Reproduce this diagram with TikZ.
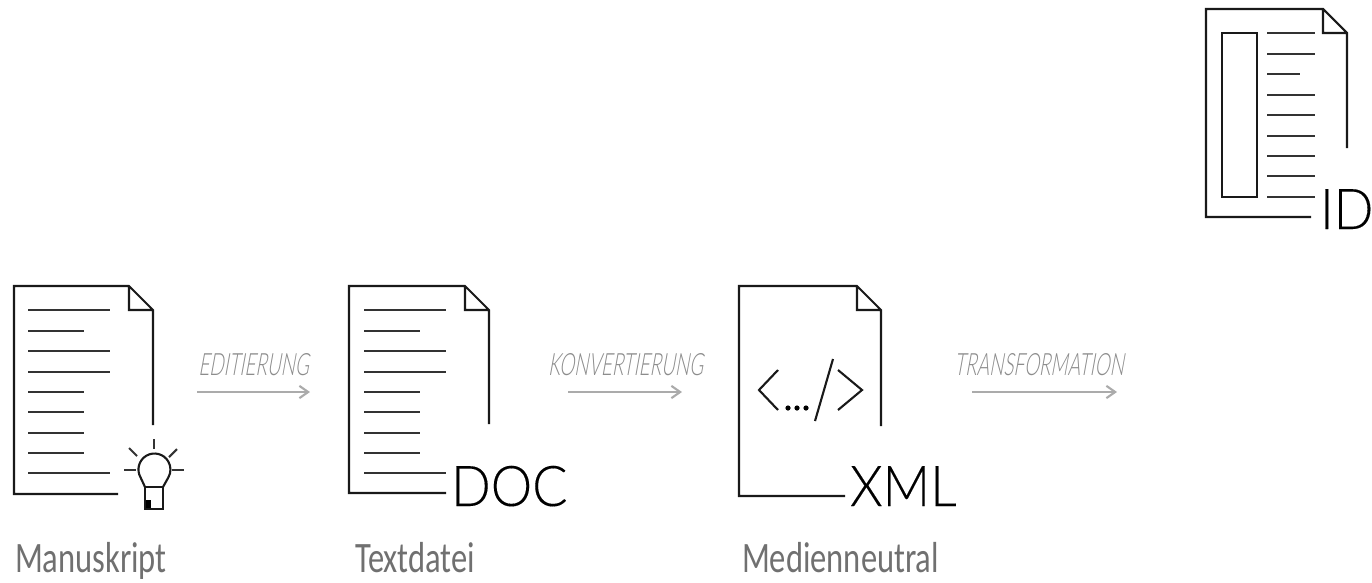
\documentclass[tikz,border=0pt]{standalone}
\usepackage{fontspec}
\usetikzlibrary{arrows.meta}
\setmainfont{Carlito}
\newfontfamily\stepfont[FakeStretch=0.75]{Carlito}
\newfontfamily\flowfont[FakeStretch=0.615,FakeSlant=0.18]{Lato Light}
\newfontfamily\typefont[FakeStretch=0.93,FakeBold=0.2]{Lato Light}
\definecolor{stepgray}{HTML}{707070}
\definecolor{flowgray}{HTML}{8C8C8C}
\definecolor{arrowgray}{HTML}{ABABAB}

\begin{document}
\begin{tikzpicture}[x=0.02cm,y=-0.02cm,line width=1.2pt]
    \tikzstyle{page}=[draw=black!90,line join=miter]
    \tikzstyle{row}=[draw=black!80]
    \tikzstyle{flow}=[draw=arrowgray,line width=1.2pt,-{Straight Barb[length=5pt,width=7pt]}]
    \tikzstyle{flow label}=[text=flowgray,inner sep=0pt,anchor=base,font=\flowfont\fontsize{17.5pt}{18pt}\selectfont]
    \tikzstyle{step label}=[text=stepgray,inner sep=0pt,anchor=base west,font=\stepfont\fontsize{24.7pt}{25pt}\selectfont]
    \tikzstyle{type label}=[text=black,inner sep=0pt,anchor=base west,font=\typefont\fontsize{32pt}{32pt}\selectfont]

    \useasboundingbox (0,0) rectangle (1372,582);

    % Draw the page outlines
    \foreach \name/\x/\y/\w/\h/\e/\f in {man/14/286/139/208/425/118,txt/349/286/140/207/424/446,xml/739/286/142/210/426/845,idd/1206/9/141/208/148/1311}
        \draw[page] (\f,\y+\h) -- (\x,\y+\h) -- (\x,\y) -- (\x+\w-24,\y) -- (\x+\w,\y+24) -- (\x+\w,\e)
            (\x+\w-24,\y) -- (\x+\w-24,\y+24) -- (\x+\w,\y+24);

    % Draw the text rows of the first two pages
    \foreach \x/\e in {28/0,364/0} {
        \foreach \y/\l in {310/82,331/56,351/82,372/82,392/56,412/56,433/56,453/56,473/82}
            \draw[row] (\x,\y) -- ++(\l,0);
    }

    % Draw the rows and the block of the last page
    \foreach \y/\l in {33/48,54/48,74/33,95/48,115/48,136/48,156/48,176/48,197/48}
        \draw[row] (1267,\y) -- ++(\l,0);
    \draw[page] (1222,33) rectangle (1257,197);

    % Draw the lamp
    \draw[page] (145,487) -- (140.6,477.5) arc[start angle=150,end angle=390,radius=16] -- (163,487);
    \draw[page] (145,487) rectangle (163,509);
    \fill[black] (146,500) rectangle (151,508);
    \foreach \a/\b/\c/\d in {154/439/154/449,129/448/137/456,177/449/169/457,124/470/136/470,172/470/184/470}
        \draw[row] (\a,\b) -- (\c,\d);

    % Draw the tag sign
    \draw[page] (778,370) -- (759,390) -- (778,410);
    \draw[page] (833,359) -- (815,421);
    \draw[page] (838,370) -- (862,390) -- (838,410);
    \foreach \x in {788,797,806}
        \fill[black] (\x,408) circle (2.6);

    % Type labels
    \node[type label] (doc) at (450,506) {DOC};
    \node[type label] (xml) at (849,506) {XML};
    \node[type label] (idd) at (1319,229) {ID};

    % Step labels
    \node[step label] (man) at (14,572) {Manuskript};
    \node[step label] (txt) at (354,572) {Textdatei};
    \node[step label] (med) at (741,572) {Medienneutral};

    % Connect the steps
    \foreach \name/\a/\b/\c/\t in {edit/197/310/253.5/EDITIERUNG,konv/568/682/625.5/KONVERTIERUNG,tran/972/1117/1039/TRANSFORMATION} {
        \coordinate (\name-a) at (\a,392);
        \coordinate (\name-b) at (\b,392);
        \draw[flow] (\name-a) -- (\name-b);
        \node[flow label] (\name) at (\c,375) {\t};
    }
\end{tikzpicture}
\end{document}
